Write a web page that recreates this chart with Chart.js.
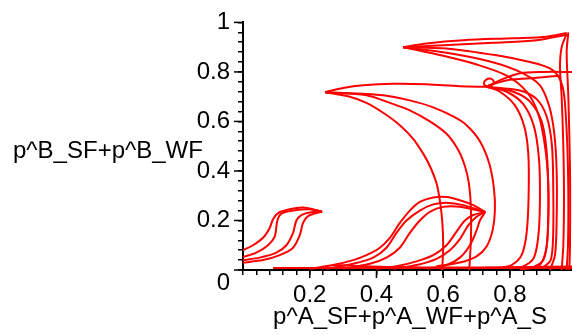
<!DOCTYPE html>
<html><head><meta charset="utf-8">
<script src="https://cdn.jsdelivr.net/npm/chart.js@4.4.0/dist/chart.umd.min.js"></script>
<style>html,body{margin:0;padding:0;background:#fff;overflow:hidden}</style>
</head><body>
<canvas id="c" width="572" height="335"></canvas>
<script>
// ---- tick labels / titles ----
const xTicks = [0.2, 0.4, 0.6, 0.8];
const xTickLabels = ['0.2', '0.4', '0.6', '0.8'];
const yTicks = [0, 0.2, 0.4, 0.6, 0.8, 1];
const yTickLabels = ['0', '0.2', '0.4', '0.6', '0.8', '1'];
const xTitle = 'p^A_SF+p^A_WF+p^A_S';
const yTitle = 'p^B_SF+p^B_WF';
const X_MIN = 0, X_MAX = 0.986, Y_MIN = 0, Y_MAX = 1;

// ---- curves: [x, y] pairs ----
// small hump family (tip near 0.24, 0.24)
const hs1 = [[0,0.08],[0.03,0.10],[0.06,0.13],[0.08,0.17],[0.09,0.205],[0.105,0.23],[0.14,0.245],[0.18,0.252],[0.237,0.236]];
const hs2 = [[0,0.052],[0.04,0.07],[0.075,0.10],[0.095,0.135],[0.103,0.2],[0.115,0.228],[0.15,0.24],[0.2,0.245],[0.237,0.236]];
const hs3 = [[0,0.04],[0.05,0.05],[0.1,0.07],[0.13,0.1],[0.15,0.15],[0.16,0.2],[0.175,0.222],[0.2,0.232],[0.237,0.236]];
const hs4 = [[0,0.03],[0.06,0.04],[0.11,0.06],[0.15,0.09],[0.17,0.14],[0.18,0.19],[0.195,0.218],[0.237,0.236]];
// lines running along the bottom
const base1 = [[0.09,0.008],[0.986,0.008]];
const base2 = [[0.27,0.02],[0.45,0.012],[0.7,0.01],[0.986,0.014]];
// middle hump family (tip near 0.73, 0.23)
const mh1 = [[0.2,0.005],[0.27,0.02],[0.33,0.04],[0.37,0.06],[0.41,0.09],[0.44,0.13],[0.47,0.19],[0.5,0.24],[0.53,0.275],[0.57,0.293],[0.61,0.295],[0.65,0.282],[0.69,0.262],[0.726,0.234]];
const mh2 = [[0.25,0.005],[0.33,0.025],[0.39,0.05],[0.43,0.09],[0.46,0.15],[0.49,0.2],[0.53,0.24],[0.57,0.265],[0.61,0.272],[0.66,0.262],[0.726,0.234]];
const mh3 = [[0.3,0.005],[0.38,0.025],[0.43,0.05],[0.47,0.09],[0.5,0.15],[0.53,0.2],[0.56,0.235],[0.6,0.255],[0.65,0.255],[0.726,0.234]];
const mh4 = [[0.4,0.005],[0.46,0.015],[0.52,0.035],[0.57,0.06],[0.61,0.1],[0.64,0.155],[0.665,0.2],[0.69,0.222],[0.726,0.234]];
const mh5 = [[0.45,0.005],[0.52,0.02],[0.58,0.045],[0.62,0.08],[0.65,0.125],[0.675,0.18],[0.7,0.215],[0.726,0.234]];
const mh6 = [[0.55,0.005],[0.61,0.02],[0.65,0.05],[0.68,0.1],[0.7,0.16],[0.71,0.2],[0.726,0.234]];
// arcs from the left tip (0.25, 0.72)
const tl1 = [[0.246,0.718],[0.3,0.735],[0.36,0.746],[0.45,0.752],[0.55,0.75],[0.65,0.742],[0.73,0.74]];
const a1 = [[0.246,0.718],[0.32,0.70],[0.37,0.675],[0.42,0.635],[0.47,0.585],[0.51,0.53],[0.54,0.47],[0.56,0.42],[0.58,0.35],[0.59,0.28],[0.597,0.2],[0.6,0.1],[0.597,0.0]];
const a2 = [[0.246,0.718],[0.37,0.706],[0.44,0.675],[0.5,0.645],[0.56,0.6],[0.61,0.55],[0.645,0.485],[0.665,0.42],[0.677,0.35],[0.683,0.25],[0.683,0.12],[0.678,0.0]];
const a3 = [[0.246,0.718],[0.42,0.706],[0.5,0.685],[0.57,0.657],[0.63,0.62],[0.67,0.585],[0.71,0.52],[0.738,0.43],[0.752,0.33],[0.755,0.24],[0.748,0.16],[0.73,0.095],[0.7,0.055],[0.65,0.03],[0.58,0.015]];
// top family from the upper tip (0.48, 0.90)
const t0 = [[0.48,0.9],[0.55,0.915],[0.66,0.928],[0.81,0.936],[0.91,0.942],[0.97,0.957]];
const t0b = [[0.48,0.9],[0.6,0.908],[0.75,0.918],[0.88,0.928],[0.97,0.95]];
const b1 = [[0.48,0.9],[0.61,0.895],[0.76,0.867],[0.86,0.84],[0.92,0.814],[0.95,0.77],[0.963,0.7],[0.972,0.5],[0.975,0.3],[0.974,0.1],[0.97,0.0]];
const b2 = [[0.48,0.9],[0.61,0.877],[0.74,0.842],[0.83,0.80],[0.89,0.746],[0.918,0.66],[0.933,0.55],[0.94,0.4],[0.94,0.2],[0.935,0.06],[0.92,0.0]];
const b3 = [[0.48,0.9],[0.6,0.865],[0.7,0.83],[0.79,0.785],[0.85,0.72],[0.885,0.63],[0.905,0.5],[0.915,0.35],[0.915,0.2],[0.908,0.08],[0.885,0.015],[0.83,0.003]];
// loop near (0.73, 0.74) and curves leaving it
const loopC = [[0.73,0.74],[0.722,0.752],[0.728,0.768],[0.745,0.772],[0.752,0.758],[0.742,0.744],[0.73,0.74]];
const ch1 = [[0.73,0.74],[0.78,0.772],[0.83,0.795],[0.9,0.8],[0.986,0.8]];
const ch2 = [[0.735,0.745],[0.8,0.768],[0.88,0.776],[0.95,0.785]];
const c1 = [[0.73,0.74],[0.77,0.72],[0.815,0.665],[0.843,0.58],[0.855,0.47],[0.856,0.3],[0.85,0.15],[0.835,0.06],[0.805,0.02],[0.77,0.008]];
const c2 = [[0.73,0.74],[0.79,0.72],[0.84,0.67],[0.872,0.58],[0.887,0.45],[0.89,0.3],[0.886,0.15],[0.872,0.05],[0.84,0.015],[0.8,0.006]];
const c3 = [[0.73,0.74],[0.81,0.72],[0.86,0.68],[0.895,0.6],[0.91,0.48],[0.915,0.3],[0.912,0.12],[0.9,0.04],[0.87,0.01]];
const c4 = [[0.73,0.74],[0.83,0.725],[0.88,0.69],[0.91,0.62],[0.926,0.5],[0.93,0.3],[0.929,0.12],[0.922,0.04],[0.9,0.01]];
// right-hand near-vertical curves from the corner (0.97, 0.955)
const r1 = [[0.97,0.955],[0.955,0.9],[0.95,0.82],[0.955,0.7],[0.96,0.5],[0.962,0.3],[0.96,0.1],[0.955,0.0]];
const r2 = [[0.975,0.96],[0.97,0.88],[0.975,0.7],[0.98,0.4],[0.98,0.1],[0.978,0.0]];

const curves = [hs1,hs2,hs3,hs4,base1,base2,mh1,mh2,mh3,mh4,mh5,mh6,tl1,a1,a2,a3,t0,t0b,b1,b2,b3,loopC,ch1,ch2,c1,c2,c3,c4,r1,r2];

const datasets = curves.map(pts => ({
  data: pts.map(p => ({x: p[0], y: p[1]})),
  showLine: true,
  borderColor: '#ff0000',
  borderWidth: 2,
  pointRadius: 0,
  tension: 0.3,
  fill: false
}));

const FONT = 'Liberation Sans';
const FSIZE = 24;
const near = (a, b) => Math.abs(a - b) < 1e-6;
const onStep = (v) => near(v / 0.04, Math.round(v / 0.04));

const axisExtras = {
  id: 'axisExtras',
  afterDraw(chart) {
    const ctx = chart.ctx, xs = chart.scales.x, ys = chart.scales.y;
    const ax = chart.chartArea.left, ay = chart.chartArea.bottom;
    ctx.save();
    ctx.strokeStyle = '#000'; ctx.lineWidth = 1.5;
    // longer major ticks
    yTicks.forEach(v => { const p = ys.getPixelForValue(v); ctx.beginPath(); ctx.moveTo(ax - 9, p); ctx.lineTo(ax, p); ctx.stroke(); });
    xTicks.forEach(v => { const p = xs.getPixelForValue(v); ctx.beginPath(); ctx.moveTo(p, ay); ctx.lineTo(p, ay + 8); ctx.stroke(); });
    ctx.fillStyle = '#000';
    ctx.font = FSIZE + 'px "' + FONT + '"';
    // origin label
    ctx.textAlign = 'right'; ctx.textBaseline = 'alphabetic';
    ctx.fillText(yTickLabels[0], ax - 13, ys.getPixelForValue(yTicks[0]) + 20);
    // titles
    ctx.textAlign = 'left';
    ctx.fillText(yTitle, 13, 158);
    ctx.textAlign = 'center';
    ctx.fillText(xTitle, 410, 324);
    ctx.restore();
  }
};

new Chart(document.getElementById('c'), {
  type: 'scatter',
  data: { datasets },
  options: {
    responsive: false,
    animation: false,
    devicePixelRatio: 1,
    layout: { padding: { top: 22, left: 0, right: 0, bottom: 0 } },
    plugins: { legend: { display: false }, tooltip: { enabled: false } },
    scales: {
      x: {
        type: 'linear', min: X_MIN, max: X_MAX,
        afterFit(s) { s.height = 65; },
        afterBuildTicks(s) { s.ticks = s.ticks.filter(t => onStep(t.value)); },
        ticks: {
          stepSize: 0.04, autoSkip: false, maxRotation: 0, padding: 6,
          color: '#000', font: { family: FONT, size: FSIZE },
          callback: (v) => { const i = xTicks.findIndex(t => near(t, v)); return i >= 0 ? xTickLabels[i] : ''; }
        },
        grid: { display: true, drawOnChartArea: false, drawTicks: true, tickLength: 5, color: '#000', lineWidth: 1.5 },
        border: { display: true, color: '#000', width: 2 }
      },
      y: {
        type: 'linear', min: Y_MIN, max: Y_MAX,
        afterFit(s) { s.width = 243; },
        afterBuildTicks(s) { s.ticks = s.ticks.filter(t => onStep(t.value)); },
        ticks: {
          stepSize: 0.04, autoSkip: false, padding: 8,
          color: '#000', font: { family: FONT, size: FSIZE },
          callback: (v) => { const i = yTicks.findIndex(t => near(t, v)); return (i > 0) ? yTickLabels[i] : ''; }
        },
        grid: { display: true, drawOnChartArea: false, drawTicks: true, tickLength: 5, color: '#000', lineWidth: 1.5 },
        border: { display: true, color: '#000', width: 2 }
      }
    }
  },
  plugins: [axisExtras]
});
</script>
</body></html>
